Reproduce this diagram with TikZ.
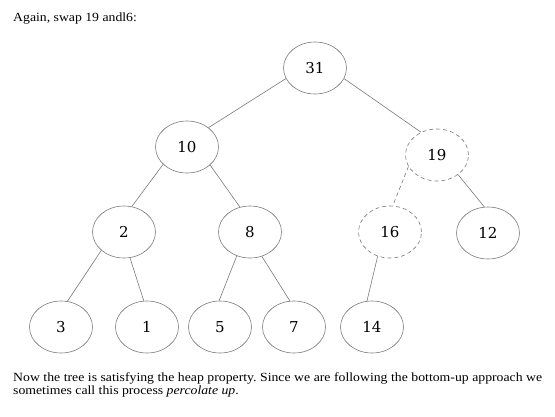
\documentclass[tikz,border=0pt]{standalone}
\usepackage{fontspec}
\setmainfont{Liberation Serif}[FakeStretch=1.1]
\newfontfamily\numfont{DejaVu Serif}
\usetikzlibrary{shapes.geometric}
\definecolor{linegray}{HTML}{7A7A7A}
\tikzset{
  hnode/.style={ellipse, draw=linegray, line width=0.6pt, minimum width=63pt, minimum height=52pt, inner sep=0pt, font=\numfont\fontsize{15}{15}\selectfont},
  hdash/.style={hnode, dash pattern=on 4pt off 3pt},
  hedge/.style={draw=linegray, line width=0.6pt},
  hedged/.style={hedge, dash pattern=on 4pt off 3pt},
  prose/.style={inner sep=0pt, font=\fontsize{12.5}{13.5}\selectfont\frenchspacing, text=black}
}
\begin{document}
\begin{tikzpicture}[x=1pt,y=-1pt]
\useasboundingbox (0,0) rectangle (555,416);
\node[prose, anchor=base west] (top) at (13,21) {Again, swap 19 andl6:};
\node (n31) [hnode] at (315,68) {31};
\node (n10) [hnode] at (187,147) {10};
\node (n19) [hdash] at (437,155) {19};
\node (n2) [hnode] at (124,232) {2};
\node (n8) [hnode] at (250,232) {8};
\node (n16) [hdash] at (390,232) {16};
\node (n12) [hnode] at (488,233) {12};
\node (n3) [hnode] at (61,327) {3};
\node (n1) [hnode] at (147,327) {1};
\node (n5) [hnode] at (220,327) {5};
\node (n7) [hnode] at (294,327) {7};
\node (n14) [hnode] at (372,327) {14};
\draw[hedge] (n31.200) -- (n10.42);
\draw[hedge] (n31.340) -- (n19.125);
\draw[hedge] (n10.216) -- (n2.73);
\draw[hedge] (n10.322) -- (n8.112);
\draw[hedged] (n19.202) -- (n16.84);
\draw[hedge] (n19.317) -- (n12.98);
\draw[hedge] (n2.219) -- (n3.76);
\draw[hedge] (n2.283) -- (n1.97);
\draw[hedge] (n8.241) -- (n5.92);
\draw[hedge] (n8.296) -- (n7.99);
\draw[hedge] (n16.243) -- (n14.101);
\node[prose, anchor=base west, text width=529pt, align=justify] (bottom) at (13,381) {\hyphenpenalty=10000 Now the tree is satisfying the heap property. Since we are following the bottom-up approach we\linebreak sometimes call this process \textit{percolate up}.};
\end{tikzpicture}
\end{document}
